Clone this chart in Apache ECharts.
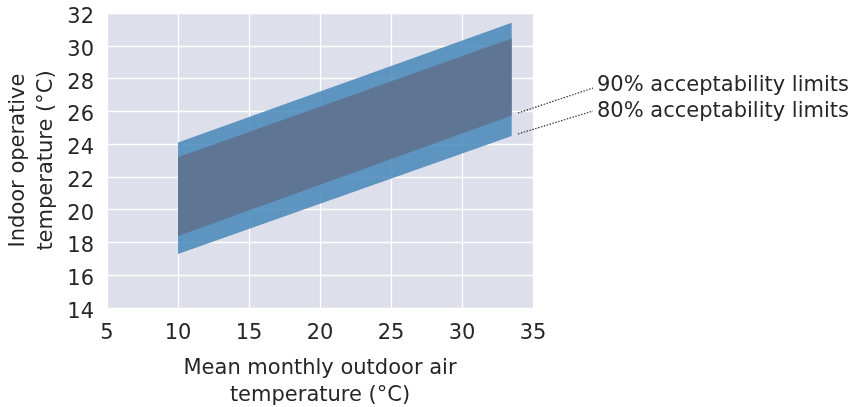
<!DOCTYPE html>
<html><head><meta charset="utf-8">
<script src="https://cdn.jsdelivr.net/npm/echarts@6/dist/echarts.min.js"></script>
<style>html,body{margin:0;padding:0;background:#fff}#c{width:858px;height:407px}</style>
</head><body><div id="c"></div>
<script>
// Data
const outdoorRange = [10, 33.5];          // mean monthly outdoor air temperature (°C)
const upper80 = [24.1, 31.4];
const lower80 = [17.3, 24.5];
const upper90 = [23.2, 30.45];
const lower90 = [18.4, 25.75];
const bandNames = ['80% acceptability limits', '90% acceptability limits'];
const xTicks = [5, 10, 15, 20, 25, 30, 35];
const yTicks = [14, 16, 18, 20, 22, 24, 26, 28, 30, 32];

const FONT = 'DejaVu Sans';
const FS = 21;
const TXT = '#262626';

const chart = echarts.init(document.getElementById('c'), null, {renderer: 'canvas'});

function bandSeries(name, lower, upper, color) {
  return {
    name: name,
    type: 'custom',
    data: [[outdoorRange[0], lower[0], upper[0], outdoorRange[1], lower[1], upper[1]]],
    renderItem: function (params, api) {
      const x0 = api.value(0), l0 = api.value(1), u0 = api.value(2);
      const x1 = api.value(3), l1 = api.value(4), u1 = api.value(5);
      const pts = [api.coord([x0, l0]), api.coord([x1, l1]), api.coord([x1, u1]), api.coord([x0, u0])];
      return {type: 'polygon', shape: {points: pts}, style: {fill: color, stroke: null}};
    },
    encode: {x: [0, 3], y: [1, 2, 4, 5]},
    silent: true,
    z: 2
  };
}

chart.setOption({
  animation: false,
  backgroundColor: '#ffffff',
  grid: {left: 107, top: 13, right: 325, bottom: 99, show: true, backgroundColor: '#dde0ea', borderWidth: 0,
         containLabel: false, outerBoundsMode: 'none'},
  xAxis: {
    type: 'value', min: xTicks[0], max: xTicks[xTicks.length - 1], interval: 5,
    axisLine: {show: false}, axisTick: {show: false},
    splitLine: {show: true, lineStyle: {color: '#ffffff', width: 1.3}},
    axisLabel: {color: TXT, fontFamily: FONT, fontSize: FS, margin: 15},
    name: 'Mean monthly outdoor air\ntemperature (°C)', nameLocation: 'middle', nameGap: 47,
    nameTextStyle: {color: TXT, fontFamily: FONT, fontSize: FS, lineHeight: 27}
  },
  yAxis: {
    type: 'value', min: yTicks[0], max: yTicks[yTicks.length - 1], interval: 2,
    axisLine: {show: false}, axisTick: {show: false},
    splitLine: {show: true, lineStyle: {color: '#ffffff', width: 1.3}},
    axisLabel: {color: TXT, fontFamily: FONT, fontSize: FS, margin: 13, verticalAlign: 'top', lineHeight: 9},
    name: 'Indoor operative\ntemperature (°C)', nameLocation: 'middle', nameGap: 46, nameRotate: 90,
    nameTextStyle: {color: TXT, fontFamily: FONT, fontSize: FS, lineHeight: 28}
  },
  series: [
    bandSeries(bandNames[0], lower80, upper80, 'rgba(65,130,183,0.82)'),
    bandSeries(bandNames[1], lower90, upper90, 'rgba(94,110,137,0.82)')
  ],
  graphic: [
    {type: 'line', shape: {x1: 518, y1: 113, x2: 593, y2: 88}, style: {stroke: '#333', lineWidth: 1.2, lineDash: [1.5, 1.5]}, z: 10},
    {type: 'line', shape: {x1: 518, y1: 134, x2: 593, y2: 111}, style: {stroke: '#333', lineWidth: 1.2, lineDash: [1.5, 1.5]}, z: 10},
    {type: 'text', left: 597, top: 75, style: {text: bandNames[1], fill: TXT, font: FS + 'px "DejaVu Sans"'}, z: 10},
    {type: 'text', left: 597, top: 101, style: {text: bandNames[0], fill: TXT, font: FS + 'px "DejaVu Sans"'}, z: 10}
  ]
});
</script></body></html>
